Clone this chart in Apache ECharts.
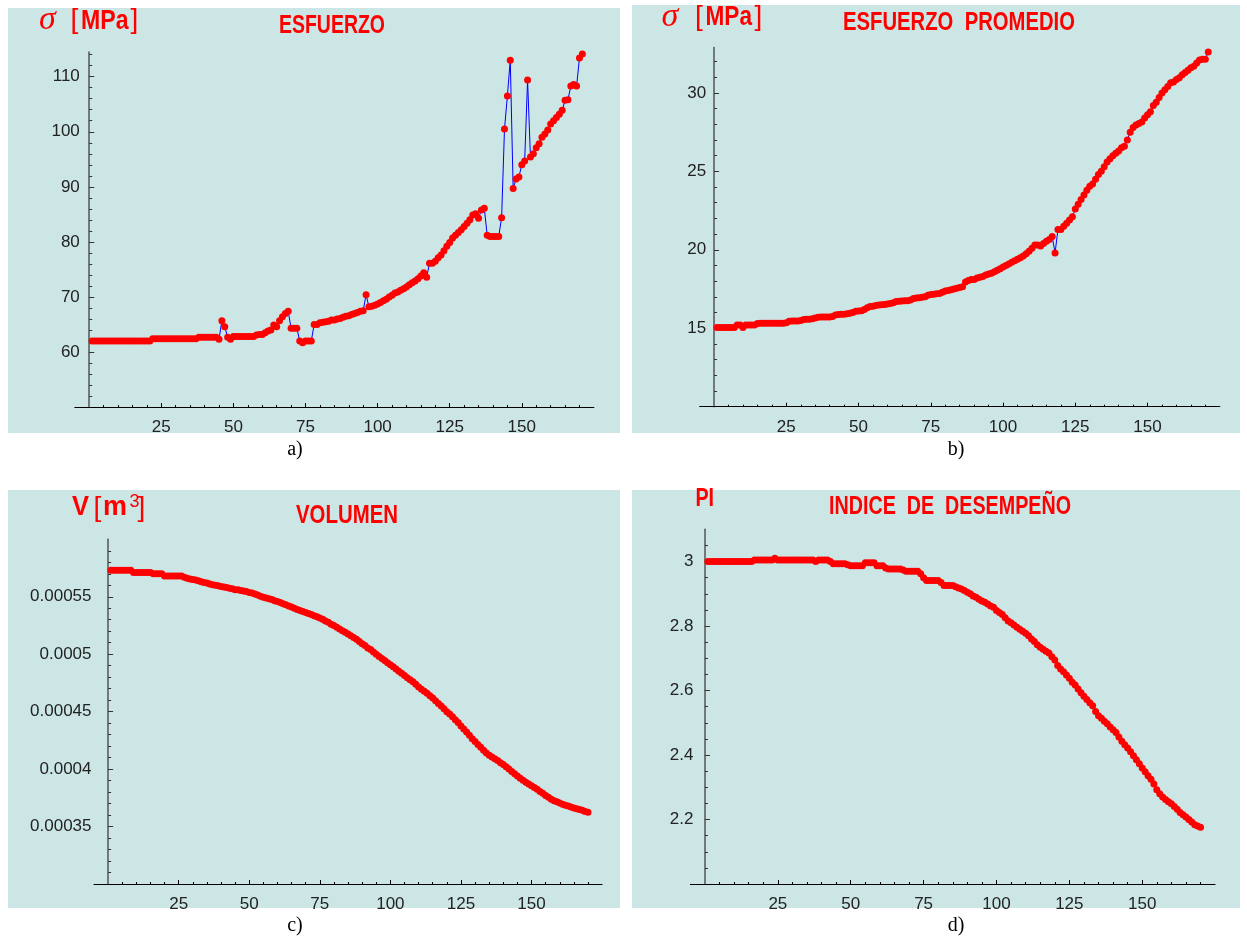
<!DOCTYPE html>
<html><head><meta charset="utf-8">
<script src="https://cdn.jsdelivr.net/npm/echarts@6/dist/echarts.min.js"></script>
<style>html,body{margin:0;padding:0;background:#fff}#c{width:1247px;height:938px}</style>
</head><body><div id="c"></div>
<script>
// ---------------- DATA ----------------
const xTickLabels = [25, 50, 75, 100, 125, 150];
const xMinorTicks = [5,10,15,20,25,30,35,40,45,50,55,60,65,70,75,80,85,90,95,100,105,110,115,120,125,130,135,140,145,150,155,160,165,170];

const yLabelsA = [60, 70, 80, 90, 100, 110];
const yTicksA = [52,54,56,58,60,62,64,66,68,70,72,74,76,78,80,82,84,86,88,90,92,94,96,98,100,102,104,106,108,110,112,114];
const yLabelsB = [15, 20, 25, 30];
const yTicksB = [11,12,13,14,15,16,17,18,19,20,21,22,23,24,25,26,27,28,29,30,31,32];
const yLabelsC = [0.00035, 0.0004, 0.00045, 0.0005, 0.00055];
const yTicksC = [0.00031,0.00032,0.00033,0.00034,0.00035,0.00036,0.00037,0.00038,0.00039,0.0004,0.00041,0.00042,0.00043,0.00044,0.00045,0.00046,0.00047,0.00048,0.00049,0.0005,0.00051,0.00052,0.00053,0.00054,0.00055,0.00056,0.00057,0.00058,0.00059];
const yLabelsD = [2.2, 2.4, 2.6, 2.8, 3];
const yTicksD = [2.05,2.1,2.15,2.2,2.25,2.3,2.35,2.4,2.45,2.5,2.55,2.6,2.65,2.7,2.75,2.8,2.85,2.9,2.95,3,3.05];

// a) ESFUERZO [MPa]
const esfuerzo = [
 62.0,62.0,62.0,62.0,62.0,62.0,62.0,62.0,62.0,62.0,
 62.0,62.0,62.0,62.0,62.0,62.0,62.0,62.0,62.0,62.0,
 62.0,62.4,62.4,62.4,62.4,62.4,62.4,62.4,62.4,62.4,
 62.4,62.4,62.4,62.4,62.4,62.4,62.4,62.7,62.7,62.7,
 62.7,62.7,62.7,62.7,62.3,65.7,64.6,62.7,62.3,62.8,
 62.8,62.8,62.8,62.8,62.8,62.8,62.8,63.1,63.2,63.2,
 63.5,63.8,64.0,64.9,64.6,65.7,66.4,67.0,67.4,64.3,
 64.3,64.3,62.0,61.7,62.0,62.0,62.0,65.0,65.0,65.3,
 65.4,65.5,65.6,65.8,65.8,66.0,66.1,66.3,66.5,66.6,
 66.8,67.0,67.2,67.4,67.5,70.4,68.2,68.3,68.5,68.7,
 69.0,69.3,69.6,70.0,70.3,70.7,70.9,71.2,71.5,71.8,
 72.2,72.6,72.9,73.3,73.8,74.4,73.6,76.1,76.1,76.5,
 77.1,77.6,78.4,79.2,79.9,80.7,81.2,81.7,82.2,82.8,
 83.4,84.0,84.9,85.1,84.3,85.8,86.1,81.2,81.0,81.0,
 81.0,81.0,84.4,100.5,106.5,113.0,89.7,91.4,91.8,94.0,
 94.7,109.4,95.4,96.0,97.1,97.8,99.0,99.6,100.3,101.4,
 102.0,102.6,103.2,103.9,105.7,105.8,108.3,108.6,108.3,113.4,
 114.1];

// b) ESFUERZO PROMEDIO [MPa]
const esfuerzoPromedio = [
 15.05,15.05,15.05,15.05,15.05,15.05,15.05,15.2,15.2,15.05,
 15.2,15.2,15.2,15.2,15.3,15.32,15.32,15.32,15.32,15.32,
 15.32,15.32,15.32,15.32,15.35,15.45,15.47,15.47,15.47,15.5,
 15.55,15.57,15.57,15.6,15.65,15.7,15.72,15.72,15.72,15.72,
 15.75,15.85,15.88,15.9,15.9,15.92,15.95,16.0,16.08,16.1,
 16.12,16.2,16.3,16.38,16.4,16.45,16.48,16.5,16.52,16.55,
 16.58,16.62,16.7,16.72,16.74,16.75,16.76,16.8,16.9,16.93,
 16.95,16.97,17.0,17.1,17.15,17.17,17.2,17.22,17.3,17.38,
 17.4,17.45,17.5,17.55,17.6,17.65,17.95,18.05,18.1,18.1,
 18.2,18.25,18.3,18.4,18.45,18.5,18.6,18.7,18.8,18.9,
 19.0,19.1,19.2,19.3,19.4,19.5,19.6,19.75,19.9,20.1,
 20.3,20.3,20.25,20.4,20.55,20.65,20.85,19.8,21.3,21.3,
 21.5,21.7,21.9,22.1,22.6,22.9,23.2,23.5,23.8,24.05,
 24.2,24.5,24.8,25.0,25.3,25.6,25.8,26.0,26.15,26.3,
 26.5,26.6,27.0,27.5,27.8,27.95,28.05,28.15,28.4,28.6,
 28.8,29.2,29.4,29.7,30.0,30.2,30.4,30.65,30.7,30.85,
 30.97,31.15,31.3,31.45,31.6,31.7,31.9,32.1,32.15,32.15,
 32.6];

// c) VOLUMEN [m^3]
const volumen = [
 0.000573,0.000573,0.000573,0.000573,0.000573,0.000573,0.000573,0.000573,0.000571,0.000571,
 0.000571,0.000571,0.000571,0.000571,0.000571,0.00057,0.00057,0.00057,0.00057,0.000568,
 0.000568,0.000568,0.000568,0.000568,0.000568,0.000568,0.000567,0.000566,0.0005655,0.000565,
 0.0005645,0.000564,0.000563,0.0005625,0.000562,0.000561,0.0005605,0.00056,0.0005595,0.000559,
 0.0005585,0.000558,0.0005575,0.000557,0.0005562,0.000556,0.0005555,0.000555,0.0005545,0.0005538,
 0.0005532,0.0005525,0.0005515,0.0005505,0.0005495,0.000549,0.0005483,0.0005475,0.0005465,0.0005458,
 0.000545,0.000544,0.000543,0.000542,0.000541,0.00054,0.000539,0.0005381,0.0005372,0.0005362,
 0.0005355,0.0005345,0.0005335,0.0005325,0.0005315,0.0005305,0.000529,0.0005278,0.000526,0.000525,
 0.0005235,0.000522,0.0005205,0.000519,0.0005176,0.000516,0.0005145,0.000513,0.000511,0.000509,
 0.0005075,0.0005055,0.000504,0.000502,0.0005,0.000498,0.0004962,0.0004945,0.0004925,0.0004908,
 0.000489,0.0004872,0.0004852,0.0004835,0.0004815,0.0004795,0.0004778,0.000476,0.0004738,0.0004715,
 0.0004695,0.0004678,0.000466,0.0004638,0.0004618,0.0004595,0.0004572,0.000455,0.0004525,0.00045,
 0.000448,0.0004455,0.000443,0.0004405,0.0004375,0.000435,0.0004322,0.0004295,0.0004265,0.000424,
 0.0004215,0.000419,0.0004165,0.000414,0.000412,0.0004105,0.000409,0.0004075,0.0004055,0.000404,
 0.000402,0.0004,0.000398,0.000396,0.000394,0.000392,0.0003902,0.0003885,0.000387,0.0003855,
 0.000384,0.0003825,0.0003805,0.000379,0.000377,0.0003755,0.0003738,0.0003725,0.0003715,0.0003705,
 0.0003695,0.0003685,0.0003678,0.000367,0.0003662,0.0003655,0.0003648,0.0003642,0.0003632,0.0003625];

// d) INDICE DE DESEMPEÑO (PI)
const indice = [
 3.0,3.0,3.0,3.0,3.0,3.0,3.0,3.0,3.0,3.0,
 3.0,3.0,3.0,3.0,3.0,3.0,3.005,3.005,3.005,3.005,
 3.005,3.005,3.005,3.01,3.005,3.005,3.005,3.005,3.005,3.005,
 3.005,3.005,3.005,3.005,3.005,3.005,3.005,3.0,3.005,3.005,
 3.005,3.005,3.0,2.993,2.993,2.993,2.993,2.993,2.99,2.987,
 2.987,2.987,2.987,2.987,2.996,2.996,2.996,2.996,2.987,2.987,
 2.987,2.98,2.977,2.977,2.977,2.977,2.977,2.974,2.97,2.97,
 2.97,2.97,2.97,2.962,2.95,2.941,2.941,2.941,2.941,2.941,
 2.935,2.926,2.926,2.926,2.926,2.922,2.918,2.915,2.91,2.905,
 2.9,2.893,2.889,2.883,2.878,2.874,2.868,2.862,2.858,2.848,
 2.842,2.836,2.826,2.816,2.81,2.803,2.796,2.79,2.784,2.778,
 2.77,2.76,2.752,2.742,2.734,2.728,2.722,2.716,2.705,2.695,
 2.678,2.667,2.658,2.648,2.638,2.626,2.617,2.605,2.593,2.582,
 2.572,2.562,2.553,2.535,2.522,2.514,2.505,2.497,2.487,2.478,
 2.47,2.456,2.443,2.432,2.422,2.41,2.398,2.385,2.373,2.36,
 2.348,2.336,2.325,2.31,2.292,2.28,2.27,2.262,2.255,2.249,
 2.24,2.232,2.222,2.215,2.208,2.2,2.192,2.184,2.18,2.176];

// ---------------- LAYOUT ----------------
const BG = 'rgb(204,229,229)';
const RED = '#ff0000';
const panels = [
  {data: esfuerzo,         grid:{left:74.8, top:51.9, width:519.1, height:355.2}, yMin:50,     yMax:114.5, yInt:10,      yLabels:yLabelsA, yTicks:yTicksA, yMargin:-5},
  {data: esfuerzoPromedio, grid:{left:699.6, top:47.4, width:520.2, height:359.3}, yMin:10,    yMax:32.9,  yInt:5,       yLabels:yLabelsB, yTicks:yTicksB, yMargin:-6.5},
  {data: volumen,          grid:{left:94.0, top:539.3, width:508.1, height:344.7}, yMin:0.0003, yMax:0.0006, yInt:0.00005, yLabels:yLabelsC, yTicks:yTicksC, yMargin:2.5},
  {data: indice,           grid:{left:690.4, top:529.3, width:524.7, height:354.7}, yMin:2.0,   yMax:3.1,   yInt:0.2,     yLabels:yLabelsD, yTicks:yTicksD, yMargin:-3}
];

const labelFont = {fontFamily:'"Liberation Sans", Arial, sans-serif', fontSize:17, color:'#222'};
const grids = [], xAxes = [], yAxes = [], series = [];
panels.forEach((p, k) => {
  grids.push(Object.assign({outerBoundsMode:'none', containLabel:false, show:false}, p.grid));
  const xBase = {type:'value', gridIndex:k, position:'bottom', min:-5, max:175, interval:5, splitLine:{show:false}, minorTick:{show:false}};
  xAxes.push(Object.assign({}, xBase, {
    axisLine:{show:true, onZero:false, lineStyle:{color:'#000', width:1}},
    axisTick:{show:true, inside:true, length:2, customValues:xMinorTicks, lineStyle:{color:'#000', width:1}},
    axisLabel:Object.assign({show:true, customValues:xTickLabels, margin:12, formatter:v => String(v)}, labelFont)
  }));
  xAxes.push(Object.assign({}, xBase, {
    axisLine:{show:false, onZero:false},
    axisTick:{show:true, inside:true, length:4, customValues:xTickLabels, lineStyle:{color:'#000', width:1}},
    axisLabel:{show:false}
  }));
  const yBase = {type:'value', gridIndex:k, position:'left', min:p.yMin, max:p.yMax, interval:p.yInt, splitLine:{show:false}, minorTick:{show:false}};
  yAxes.push(Object.assign({}, yBase, {
    axisLine:{show:true, onZero:true, lineStyle:{color:'#555', width:1.5}},
    axisTick:{show:true, inside:true, length:3, customValues:p.yTicks, lineStyle:{color:'#333', width:1}},
    axisLabel:Object.assign({show:true, customValues:p.yLabels, margin:p.yMargin, formatter:v => String(v)}, labelFont)
  }));
  yAxes.push(Object.assign({}, yBase, {
    axisLine:{show:false, onZero:true},
    axisTick:{show:true, inside:true, length:5, customValues:p.yLabels, lineStyle:{color:'#333', width:1}},
    axisLabel:{show:false}
  }));
  series.push({
    type:'line', xAxisIndex:2*k, yAxisIndex:2*k,
    data:p.data.map((v, i) => [i + 1, v]),
    symbol:'circle', symbolSize:7, showAllSymbol:true,
    itemStyle:{color:RED}, lineStyle:{color:'#0000ff', width:1},
    emphasis:{disabled:true}, silent:true, animation:false, z:3
  });
});

// ---------------- TEXT / DECORATION ----------------
const cv = document.createElement('canvas').getContext('2d');
function txt(text, font, left, cy, width, color, align) {
  cv.font = font;
  const w = cv.measureText(text).width;
  return {type:'text', x:left, y:cy, scaleX: width ? width / w : 1, z:10, silent:true,
    style:{text:text, font:font, fill:color || RED, textAlign:align || 'left', align:align || 'left', textVerticalAlign:'middle', verticalAlign:'middle'}};
}
const SANS = '"Liberation Sans", Arial, sans-serif';
const SERIF = '"Liberation Serif", "Times New Roman", serif';
const graphics = [
  {type:'rect', shape:{x:8, y:8, width:612, height:425}, style:{fill:BG}, z:-10, silent:true},
  {type:'rect', shape:{x:632, y:5, width:608, height:428}, style:{fill:BG}, z:-10, silent:true},
  {type:'rect', shape:{x:8, y:490, width:612, height:418}, style:{fill:BG}, z:-10, silent:true},
  {type:'rect', shape:{x:632, y:490, width:608, height:418}, style:{fill:BG}, z:-10, silent:true},
  // a
  txt('σ', 'italic 34px ' + SERIF, 39, 19.6),
  txt('[', '28px ' + SANS, 70.5, 20),
  txt('MPa', 'bold 28px ' + SANS, 81, 21.2, 47.5),
  txt(']', '28px ' + SANS, 130.5, 20),
  txt('ESFUERZO', 'bold 26px ' + SANS, 279, 26, 106),
  // b
  txt('σ', 'italic 34px ' + SERIF, 661.5, 16.6),
  txt('[', '28px ' + SANS, 695, 17),
  txt('MPa', 'bold 28px ' + SANS, 705.5, 17.5, 46.5),
  txt(']', '28px ' + SANS, 754.5, 17),
  txt('ESFUERZO  PROMEDIO', 'bold 26px ' + SANS, 843, 22.5, 232),
  // c
  txt('V', 'bold 27px ' + SANS, 72, 507.5, 17),
  txt('[', '28px ' + SANS, 93.5, 508),
  txt('m', 'bold 27px ' + SANS, 103, 507.5, 24),
  txt('3', '18px ' + SANS, 129.5, 502),
  txt(']', '28px ' + SANS, 137.5, 508),
  txt('VOLUMEN', 'bold 26px ' + SANS, 296, 516, 102),
  // d
  txt('PI', 'bold 25px ' + SANS, 695.4, 498.7, 18.6),
  txt('INDICE  DE  DESEMPEÑO', 'bold 26px ' + SANS, 829, 507, 242),
  // panel letters
  txt('a)', '20px ' + SERIF, 295, 450, 0, '#000', 'center'),
  txt('b)', '20px ' + SERIF, 956, 450, 0, '#000', 'center'),
  txt('c)', '20px ' + SERIF, 295, 926, 0, '#000', 'center'),
  txt('d)', '20px ' + SERIF, 956, 926, 0, '#000', 'center')
];

const chart = echarts.init(document.getElementById('c'), null, {renderer:'canvas'});
chart.setOption({
  animation:false,
  backgroundColor:'#ffffff',
  grid:grids, xAxis:xAxes, yAxis:yAxes, series:series,
  graphic:{elements:graphics}
});
</script>
</body></html>
